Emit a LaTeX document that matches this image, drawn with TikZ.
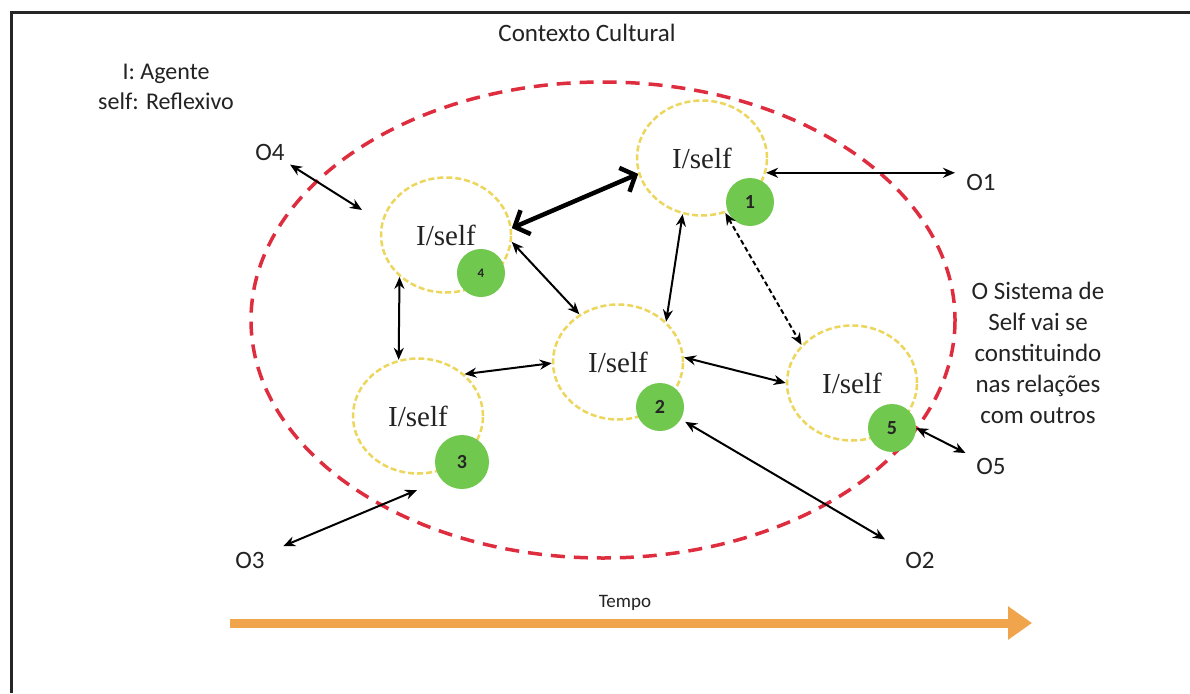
\documentclass[tikz,border=0pt]{standalone}
\usepackage{fontspec}
\setmainfont{Carlito}
\newfontfamily\serifself{Liberation Serif}
\usetikzlibrary{shapes.geometric,arrows.meta,calc}

\definecolor{ctxred}{RGB}{222,45,62}
\definecolor{selfyellow}{RGB}{236,214,92}
\definecolor{numgreen}{RGB}{112,200,78}
\definecolor{timeorange}{RGB}{240,164,76}
\definecolor{txtgray}{RGB}{35,35,35}

\begin{document}
\begin{tikzpicture}[x=1pt,y=-1pt,
 selfnode/.style={ellipse, draw=selfyellow, line width=2.5pt, dash pattern=on 6pt off 3pt,
   minimum width=130pt, minimum height=115pt, inner sep=0pt,
   font=\serifself\fontsize{29}{32}\selectfont, text=txtgray},
 numnode/.style={circle, fill=numgreen, minimum size=48pt, inner sep=0pt,
   font=\bfseries\fontsize{20}{22}\selectfont, text=black!85},
 lbl/.style={font=\fontsize{25}{28}\selectfont, text=txtgray, inner sep=0pt},
 link/.style={line width=2pt, {Stealth[length=12pt,width=10pt]}-{Stealth[length=12pt,width=10pt]}},
 strong/.style={line width=4.5pt, {Straight Barb[length=12pt,width=26pt]}-{Straight Barb[length=12pt,width=26pt]}},
]
\useasboundingbox (0,0) rectangle (1190,693);
\fill[white] (0,0) rectangle (1190,693);

% frame
\draw[line width=3pt, black!85] (11,693) -- (11,13) -- (1190,13);

% cultural context
\draw[ctxred, line width=3.5pt, dash pattern=on 14pt off 9pt] (603,320) ellipse [x radius=352, y radius=238];

% labels
\node[lbl] (ctx) at (587,33) {Contexto Cultural};
\node[lbl, align=center, font=\fontsize{24}{30}\selectfont] (legend) at (166,87) {I: Agente\\self: Reflexivo};
\node[lbl, align=center, font=\fontsize{25}{31}\selectfont] (sys) at (1038,353) {O Sistema de\\Self vai se\\constituindo\\nas relações\\com outros};
\node[lbl] (O1) at (981,182) {O1};
\node[lbl] (O2) at (920,560) {O2};
\node[lbl] (O3) at (250,560) {O3};
\node[lbl] (O4) at (270,152) {O4};
\node[lbl] (O5) at (991,466) {O5};
\node[lbl, font=\fontsize{19}{22}\selectfont] (tempo) at (625,603) {Tempo};

% self nodes
\node[selfnode] (n1) at (702,158) {I/self};
\node[selfnode] (n4) at (446,235) {I/self};
\node[selfnode] (n2) at (618,362) {I/self};
\node[selfnode] (n3) at (418,416) {I/self};
\node[selfnode] (n5) at (852,383) {I/self};

\node[numnode] (g1) at (750,202) {1};
\node[numnode, font=\bfseries\fontsize{13}{15}\selectfont] (g4) at (481,273) {4};
\node[numnode] (g2) at (660,407) {2};
\node[numnode, minimum size=54pt] (g3) at (462,462) {3};
\node[numnode] (g5) at (892,428) {5};

% connectors
\coordinate (c1) at (955,0);
\draw[strong] (n4.6) -- (n1.194);
\draw[link] (n4.-6) -- (n2.129);
\draw[link] (n1.251) -- (n2.40);
\draw[link, dash pattern=on 5pt off 3pt] (n1.293) -- (n5.143);
\draw[link] (n4.222) -- (n3.109);
\draw[link] (n3.42) -- (n2.181);
\draw[link] (n2.4) -- (n5.180);
\draw[link] (n1.-13) -- (n1.-13 -| c1);
\draw[link, shorten <=5pt, shorten >=24pt] (g2) -- (O2);
\draw[link, shorten >=12pt] (g5.east) -- (O5);
\coordinate (c3) at (417,490);
\draw[link, shorten >=20pt] (c3) -- (O3);
\coordinate (c4) at (362,210);
\draw[link, shorten <=8pt] (O4) -- (c4);

% time arrow
\coordinate (t0) at (230,623);
\coordinate (t1) at (1032,623);
\draw[timeorange, line width=9pt, -{Triangle[length=24pt,width=32pt]}] (t0) -- (t1);
\end{tikzpicture}
\end{document}
